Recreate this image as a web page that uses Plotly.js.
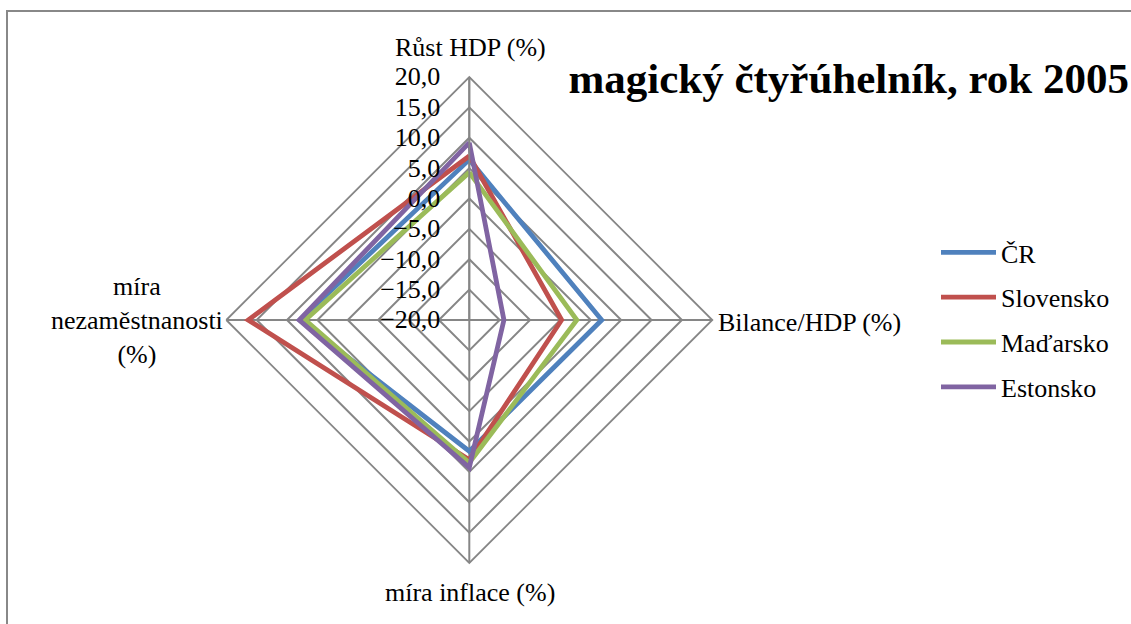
<!DOCTYPE html>
<html><head><meta charset="utf-8">
<script src="https://cdn.plot.ly/plotly-3.0.1.min.js"></script>
<style>body{margin:0}</style></head>
<body>
<div id="chart"></div>
<script>
const categories = ["Růst HDP (%)", "Bilance/HDP (%)", "míra inflace (%)", "míra<br>nezaměstnanosti<br>(%)"];
const seriesNames = ["ČR", "Slovensko", "Maďarsko", "Estonsko"];
const cr        = [6.4, 1.8, 1.6, 7.9];
const slovensko = [7.0, -4.8, 3.0, 16.4];
const madarsko  = [4.3, -2.3, 3.5, 7.0];
const estonsko  = [9.2, -14.3, 4.3, 8.0];
const colors = ["#4F81BD", "#C0504D", "#9BBB59", "#8064A2"];
const chartTitle = "magický čtyřúhelník, rok 2005";

const values = [cr, slovensko, madarsko, estonsko];
const FAM = "Liberation Serif";
const FS = 26;

const traces = values.map((v, i) => ({
  type: "scatterpolar",
  mode: "lines",
  name: seriesNames[i],
  r: v.concat([v[0]]),
  theta: categories.concat([categories[0]]),
  line: { color: colors[i], width: 4.8 },
  legendgroup: "g" + i,
  hoverinfo: "skip"
}));

const W = 1131, H = 624, cx = 469.3, cy = 320, R = 243;

const labelPos = [
  { x: 470, y: 48, xanchor: "center" },
  { x: 716, y: 322, xanchor: "left" },
  { x: 470, y: 592, xanchor: "center" },
  { x: 137, y: 320, xanchor: "center" }
];
const annotations = categories.map((c, i) => ({
  text: c, showarrow: false,
  xref: "paper", yref: "paper",
  x: labelPos[i].x / W, y: 1 - labelPos[i].y / H,
  xanchor: labelPos[i].xanchor, yanchor: "middle", align: "center",
  font: { family: FAM, size: FS, color: "#000" }
}));

const layout = {
  width: W, height: H,
  margin: { l: 0, r: 0, t: 0, b: 0 },
  separators: ", ",
  font: { family: FAM, size: FS, color: "#000" },
  title: {
    text: chartTitle,
    font: { family: FAM, size: 43, color: "#000", weight: "bold" },
    x: 1129 / W, xanchor: "right", xref: "paper",
    y: 1 - 78 / H, yanchor: "middle", yref: "paper"
  },
  annotations: annotations,
  shapes: [
    { type: "line", xref: "paper", yref: "paper", x0: 7 / W, x1: 7 / W, y0: -0.05, y1: 1 - 11 / H,
      line: { color: "#888", width: 2 } },
    { type: "line", xref: "paper", yref: "paper", x0: 6 / W, x1: 1.05, y0: 1 - 11 / H, y1: 1 - 11 / H,
      line: { color: "#888", width: 2 } }
  ],
  showlegend: true,
  legend: {
    x: 936 / W, xanchor: "left",
    y: 1 - 320 / H, yanchor: "middle",
    font: { family: FAM, size: FS, color: "#000" },
    traceorder: "grouped",
    tracegroupgap: 8,
    itemwidth: 55,
    bgcolor: "rgba(0,0,0,0)"
  },
  polar: {
    domain: {
      x: [(cx - R) / W, (cx + R) / W],
      y: [(H - cy - R) / H, (H - cy + R) / H]
    },
    bgcolor: "#fff",
    gridshape: "linear",
    radialaxis: {
      range: [-20, 20],
      dtick: 5,
      tick0: 0,
      tickformat: ".1f",
      angle: 90,
      tickangle: 90,
      side: "counterclockwise",
      showline: true,
      linecolor: "#868686",
      linewidth: 1.8,
      gridcolor: "#868686",
      gridwidth: 1.8,
      ticks: "outside",
      ticklen: 19,
      tickcolor: "rgba(0,0,0,0)",
      tickfont: { family: FAM, size: FS, color: "#000" }
    },
    angularaxis: {
      type: "category",
      categoryarray: categories,
      direction: "clockwise",
      rotation: 90,
      showline: true,
      showticklabels: false,
      linecolor: "#868686",
      linewidth: 1.8,
      gridcolor: "#868686",
      gridwidth: 1.8,
      ticks: ""
    }
  }
};

Plotly.newPlot("chart", traces, layout, { displayModeBar: false });
</script>
</body></html>
